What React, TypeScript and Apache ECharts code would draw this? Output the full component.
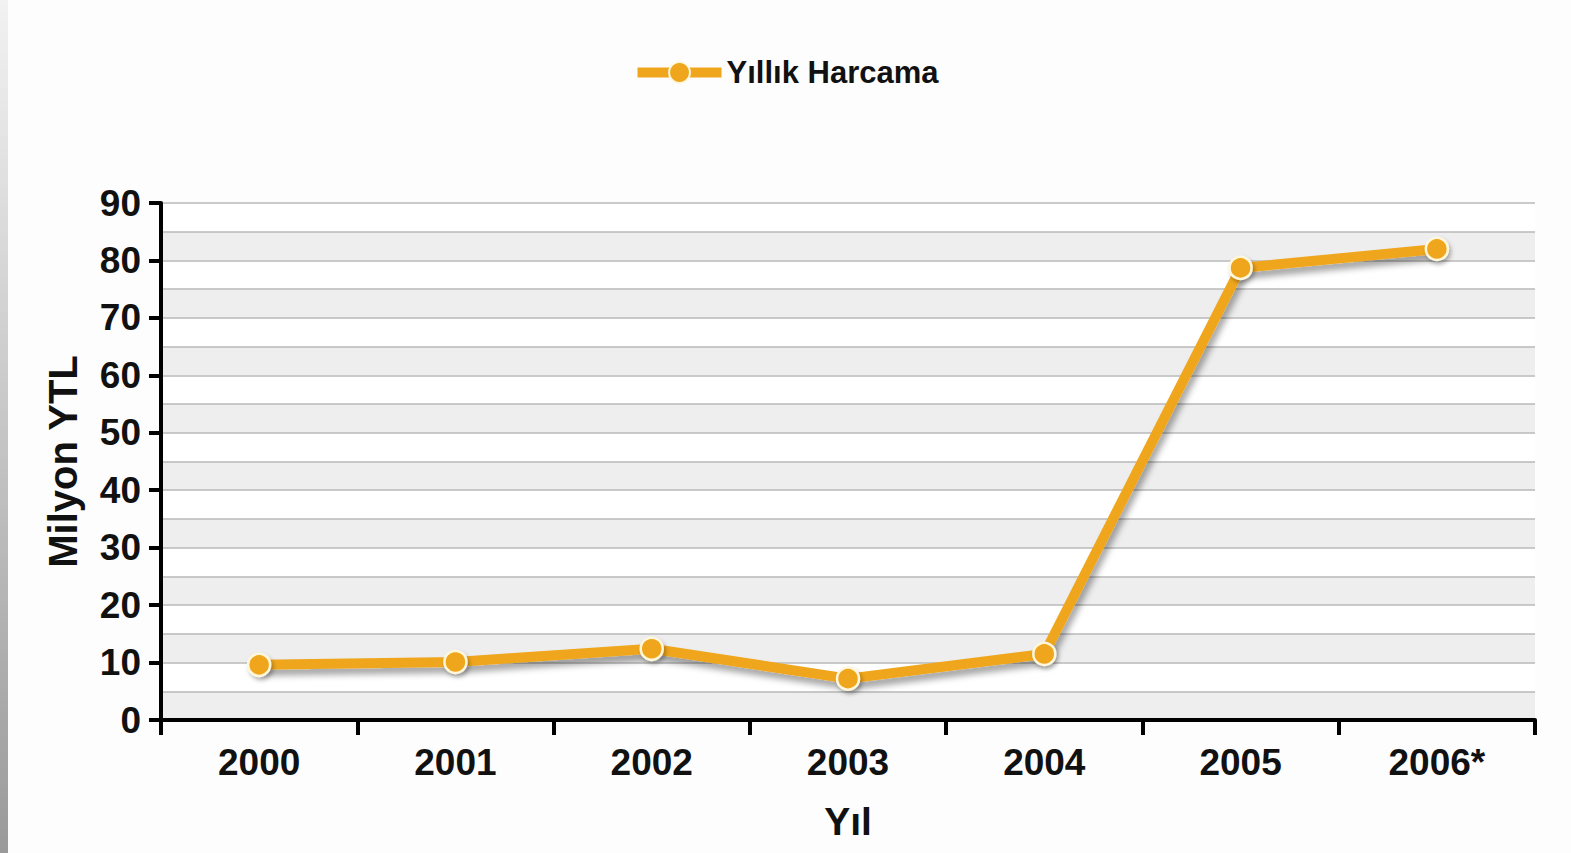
import React, { useEffect, useRef } from "react";
import * as echarts from "echarts";

const years = ["2000", "2001", "2002", "2003", "2004", "2005", "2006*"];
const spending = [9.6, 10.1, 12.4, 7.2, 11.5, 78.7, 82.0];
const seriesName = "Yıllık Harcama";
const yAxisName = "Milyon YTL";
const xAxisName = "Yıl";

const FONT = "'Liberation Sans', Arial, Helvetica, sans-serif";
const ORANGE = "#EFA61C";

export default function App() {
  const ref = useRef<HTMLDivElement>(null);
  useEffect(() => {
    if (!ref.current) return;
    const chart = echarts.init(ref.current, undefined, { renderer: "svg" });
    chart.setOption({
      animation: false,
      backgroundColor: "#fdfdfd",
      textStyle: { fontFamily: FONT },
      graphic: [
        {
          type: "rect",
          left: 0,
          top: 0,
          shape: { width: 8, height: 853 },
          style: {
            fill: new echarts.graphic.LinearGradient(0, 0, 0, 1, [
              { offset: 0, color: "#f2f2f2" },
              { offset: 1, color: "#9a9a9a" },
            ]),
          },
          silent: true,
        },
      ],
      legend: {
        top: 52,
        left: "center",
        itemWidth: 84,
        itemHeight: 26,
        itemGap: 10,
        lineStyle: {
          width: 10,
          color: ORANGE,
          shadowBlur: 0,
          shadowOffsetX: 0,
          shadowOffsetY: 0,
          shadowColor: "transparent",
        },
        itemStyle: {
          shadowBlur: 0,
          shadowOffsetX: 0,
          shadowOffsetY: 0,
          shadowColor: "transparent",
        },
        textStyle: { fontFamily: FONT, fontSize: 31, fontWeight: "bold", color: "#111" },
        data: [seriesName],
      },
      grid: { left: 161, right: 36, top: 203, bottom: 133, containLabel: false },
      xAxis: {
        type: "category",
        data: years,
        boundaryGap: true,
        name: xAxisName,
        nameLocation: "middle",
        nameGap: 82,
        nameTextStyle: { fontFamily: FONT, fontSize: 39, fontWeight: "bold", color: "#111" },
        axisLine: { lineStyle: { color: "#000", width: 4 } },
        axisTick: { show: true, length: 15, lineStyle: { color: "#000", width: 4 } },
        axisLabel: { fontFamily: FONT, fontSize: 37, fontWeight: "bold", color: "#111", margin: 24 },
      },
      yAxis: [
        {
          type: "value",
          min: 0,
          max: 90,
          interval: 10,
          name: yAxisName,
          nameLocation: "middle",
          nameRotate: 90,
          nameGap: 78,
          nameTextStyle: { fontFamily: FONT, fontSize: 40, fontWeight: "bold", color: "#111" },
          axisLine: { show: true, lineStyle: { color: "#000", width: 4 } },
          axisTick: { show: true, length: 12, lineStyle: { color: "#000", width: 4 } },
          axisLabel: { fontFamily: FONT, fontSize: 37, fontWeight: "bold", color: "#111", margin: 20 },
          splitLine: { show: false },
          z: 3,
        },
        {
          type: "value",
          min: 0,
          max: 90,
          interval: 5,
          position: "left",
          axisLine: { show: false },
          axisTick: { show: false },
          axisLabel: { show: false },
          splitLine: { show: true, lineStyle: { color: "#b8b8b8", width: 1.5 } },
          splitArea: { show: true, areaStyle: { color: ["#eeeeee", "#ffffff"] } },
          z: 0,
        },
      ],
      series: [
        {
          name: seriesName,
          type: "line",
          yAxisIndex: 0,
          data: spending,
          symbol: "circle",
          symbolSize: 22,
          lineStyle: {
            color: ORANGE,
            width: 10,
            shadowColor: "rgba(0,0,0,0.35)",
            shadowBlur: 6,
            shadowOffsetX: 3,
            shadowOffsetY: 6,
          },
          itemStyle: {
            color: ORANGE,
            borderColor: "#fff7dc",
            borderWidth: 2.5,
            shadowColor: "rgba(0,0,0,0.3)",
            shadowBlur: 4,
            shadowOffsetX: 2,
            shadowOffsetY: 3,
          },
          z: 5,
        },
      ],
    });
    return () => chart.dispose();
  }, []);
  return (
    <div
      ref={ref}
      style={{ position: "fixed", left: 0, top: 0, width: 1571, height: 853 }}
    />
  );
}
